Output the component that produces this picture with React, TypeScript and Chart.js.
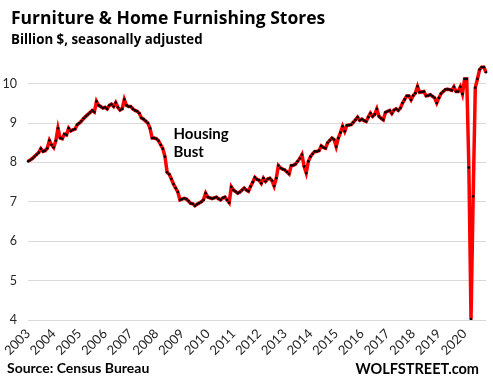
import React, { useEffect, useRef } from 'react';
import { Chart, registerables } from 'chart.js';

Chart.register(...registerables);

const TITLE = 'Furniture & Home Furnishing Stores';
const SUBTITLE = 'Billion $, seasonally adjusted';
const SOURCE = 'Source: Census Bureau';
const BRAND = 'WOLFSTREET.com';
const NOTE = ['Housing', 'Bust'];

const years = ['2003', '2004', '2005', '2006', '2007', '2008', '2009', '2010', '2011',
  '2012', '2013', '2014', '2015', '2016', '2017', '2018', '2019', '2020'];

const yTicks = [4, 5, 6, 7, 8, 9, 10];

const v2003 = [8.03, 8.06, 8.10, 8.15, 8.20, 8.25, 8.35, 8.28, 8.30, 8.36, 8.56, 8.45];
const v2004 = [8.38, 8.55, 8.87, 8.62, 8.60, 8.72, 8.70, 8.87, 8.80, 8.83, 8.85, 8.96];
const v2005 = [9.00, 9.05, 9.12, 9.17, 9.22, 9.27, 9.32, 9.28, 9.55, 9.45, 9.42, 9.38];
const v2006 = [9.40, 9.36, 9.45, 9.48, 9.42, 9.52, 9.40, 9.33, 9.36, 9.60, 9.45, 9.42];
const v2007 = [9.42, 9.36, 9.32, 9.30, 9.25, 9.13, 9.10, 9.05, 9.00, 8.87, 8.62, 8.62];
const v2008 = [8.60, 8.55, 8.45, 8.35, 8.15, 7.75, 7.70, 7.58, 7.45, 7.35, 7.25, 7.05];
const v2009 = [7.07, 7.09, 7.07, 7.02, 6.96, 6.95, 6.90, 6.94, 6.97, 7.00, 7.05, 7.22];
const v2010 = [7.12, 7.10, 7.08, 7.10, 7.12, 7.08, 7.05, 7.10, 7.12, 7.05, 6.98, 7.38];
const v2011 = [7.30, 7.26, 7.22, 7.25, 7.30, 7.35, 7.30, 7.27, 7.39, 7.50, 7.62, 7.57];
const v2012 = [7.55, 7.47, 7.60, 7.52, 7.58, 7.60, 7.54, 7.40, 7.60, 7.92, 7.86, 7.83];
const v2013 = [7.81, 7.76, 7.71, 7.92, 7.93, 7.96, 8.03, 8.10, 8.20, 7.90, 7.73, 8.03];
const v2014 = [8.15, 8.22, 8.28, 8.28, 8.30, 8.42, 8.38, 8.36, 8.50, 8.56, 8.62, 8.58];
const v2015 = [8.40, 8.62, 8.76, 8.92, 8.79, 8.94, 8.95, 8.96, 9.02, 9.08, 9.15, 9.07];
const v2016 = [9.10, 9.06, 9.04, 9.15, 9.25, 9.17, 9.22, 9.36, 9.17, 9.12, 9.08, 9.27];
const v2017 = [9.30, 9.32, 9.24, 9.33, 9.36, 9.32, 9.38, 9.51, 9.60, 9.69, 9.69, 9.59];
const v2018 = [9.70, 9.76, 9.93, 9.78, 9.79, 9.80, 9.69, 9.70, 9.72, 9.68, 9.64, 9.51];
const v2019 = [9.64, 9.75, 9.80, 9.85, 9.86, 9.85, 9.83, 9.92, 9.80, 9.80, 9.92, 9.74];
const v2020 = [10.12, 10.12, 7.87, 4.02, 7.14, 9.90, 10.12, 10.36, 10.42, 10.42, 10.29];

const yearValues = [v2003, v2004, v2005, v2006, v2007, v2008, v2009, v2010, v2011,
  v2012, v2013, v2014, v2015, v2016, v2017, v2018, v2019, v2020];

const values: number[] = [];
const labels: string[] = [];
yearValues.forEach((arr, yi) => {
  arr.forEach((v, m) => {
    values.push(v);
    labels.push(years[yi] + '-' + String(m + 1).padStart(2, '0'));
  });
});

const FONT = 'Lato, "Open Sans", sans-serif';
const HEAD_FONT = '"Open Sans", "Noto Sans", sans-serif';

const textPlugin = {
  id: 'wolfTexts',
  afterDraw(chart: any) {
    const ctx = chart.ctx as CanvasRenderingContext2D;
    const xs = chart.scales.x;
    const ys = chart.scales.y;
    ctx.save();
    ctx.fillStyle = '#000000';
    ctx.textBaseline = 'alphabetic';
    ctx.textAlign = 'left';
    ctx.font = 'bold 17.5px ' + HEAD_FONT;
    ctx.fillText(TITLE, 11, 24);
    ctx.font = 'bold 13.3px ' + HEAD_FONT;
    ctx.fillText(SUBTITLE, 11, 44);
    // annotation
    ctx.font = 'bold 15px ' + FONT;
    const ax = xs.getPixelForValue(68);
    ctx.fillText(NOTE[0], ax, ys.getPixelForValue(8.6));
    ctx.fillText(NOTE[1], ax, ys.getPixelForValue(8.13));
    // footer
    ctx.font = 'bold 14px ' + FONT;
    ctx.fillText(SOURCE, 7, 373);
    ctx.font = 'bold 14.5px ' + FONT;
    ctx.textAlign = 'right';
    ctx.fillText(BRAND, 479, 374);
    ctx.restore();
  },
};

export default function App() {
  const ref = useRef<HTMLCanvasElement | null>(null);
  useEffect(() => {
    if (!ref.current) return;
    const chart = new Chart(ref.current, {
      type: 'line',
      data: {
        labels,
        datasets: [
          {
            data: values,
            borderColor: '#ff0000',
            borderWidth: 3.5,
            tension: 0,
            pointRadius: 1.35,
            pointBackgroundColor: '#000000',
            pointBorderWidth: 0,
            pointHoverRadius: 1.35,
          },
        ],
      },
      options: {
        responsive: false,
        animation: false,
        events: [],
        layout: { padding: { top: 64, left: 1, right: 7, bottom: 0 } },
        plugins: {
          legend: { display: false },
          tooltip: { enabled: false },
          title: { display: false },
        },
        scales: {
          x: {
            type: 'category',
            offset: false,
            grid: { display: false, drawTicks: false },
            border: { display: false },
            ticks: {
              autoSkip: false,
              maxRotation: 45,
              minRotation: 45,
              padding: 6,
              color: '#262626',
              font: { family: FONT, size: 13 },
              callback: (_v: any, idx: number) => (idx % 12 === 0 ? years[idx / 12] : null),
            },
            afterFit: (s: any) => {
              s.height = 67;
            },
          },
          y: {
            min: 4,
            max: 10.5,
            grid: { color: '#d9d9d9', lineWidth: 1, drawTicks: false },
            border: { display: false },
            ticks: {
              stepSize: 1,
              includeBounds: false,
              padding: 11,
              color: '#262626',
              font: { family: FONT, size: 12.5 },
              callback: (v: any) => (yTicks.includes(Number(v)) ? String(v) : null),
            },
            afterFit: (s: any) => {
              s.width = 27;
            },
          },
        },
      },
      plugins: [textPlugin],
    });
    return () => chart.destroy();
  }, []);
  return (
    <div style={{ position: 'absolute', left: 0, top: 0, width: 493, height: 387, background: '#fff' }}>
      <canvas ref={ref} width={493} height={387} style={{ display: 'block', width: 493, height: 387 }} />
    </div>
  );
}
